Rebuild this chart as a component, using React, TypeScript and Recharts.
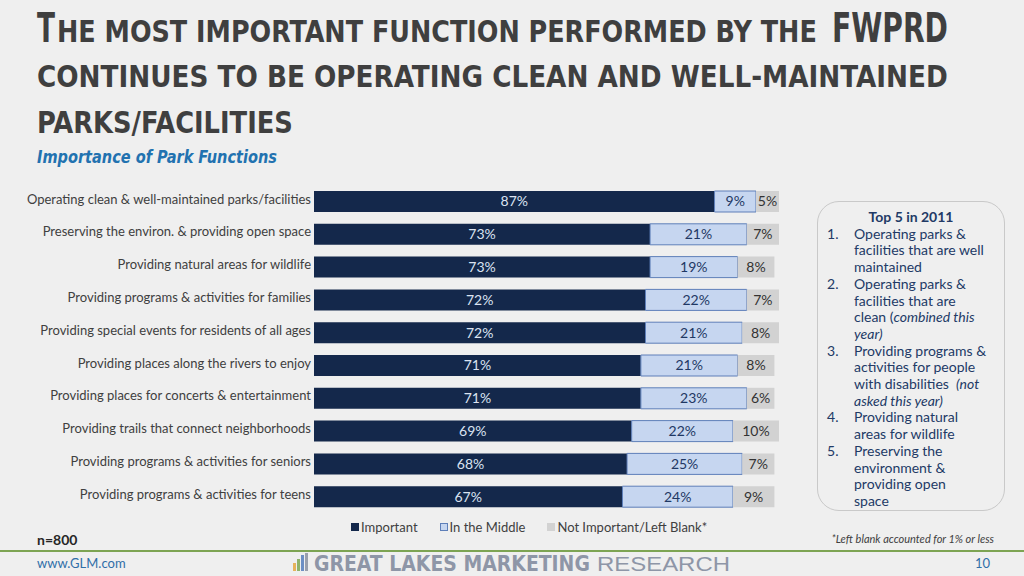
import React, { useLayoutEffect, useRef, useState } from 'react'
import { BarChart, Bar, XAxis, YAxis, Legend, LabelList } from 'recharts'

const categories = [
  'Operating clean & well-maintained parks/facilities',
  'Preserving the environ. & providing open space',
  'Providing natural areas for wildlife',
  'Providing programs & activities for families',
  'Providing special events for residents of all ages',
  'Providing places along the rivers to enjoy',
  'Providing places for concerts & entertainment',
  'Providing trails that connect neighborhoods',
  'Providing programs & activities for seniors',
  'Providing programs & activities for teens',
]
const important = [87, 73, 73, 72, 72, 71, 71, 69, 68, 67]
const middle = [9, 21, 19, 22, 21, 21, 23, 22, 25, 24]
const notImportant = [5, 7, 8, 7, 8, 8, 6, 10, 7, 9]

const seriesNames = ['Important', 'In the Middle', 'Not Important/Left Blank*']

const top5 = [
  ['Operating parks &', 'facilities that are well', 'maintained'],
  ['Operating parks &', 'facilities that are', 'clean (|combined this', '|year)'],
  ['Providing programs &', 'activities for people', 'with disabilities  |(not', '|asked this year)'],
  ['Providing natural', 'areas for wildlife'],
  ['Preserving the', 'environment &', 'providing open', 'space'],
]

const NAVY = '#14284b'
const LIGHT = '#c6d6f0'
const LIGHT_STROKE = '#5e7fb9'
const GREY = '#d2d2d2'
const FONT = '"Lato", "Open Sans", sans-serif'
const TITLE_FONT = '"DejaVu Sans Condensed", "Roboto", sans-serif'

const data = categories.map((name, i) => ({
  name,
  important: important[i],
  middle: middle[i],
  notImportant: notImportant[i],
}))

const pct = (v: any) => `${v}%`

// squeezes a text horizontally so that it spans `width` px
function FitText({ x, y, width, children, ...rest }: any) {
  const ref = useRef<SVGTextElement>(null)
  const [s, setS] = useState(1)
  useLayoutEffect(() => {
    const w = ref.current?.getComputedTextLength()
    if (w) setS(width / w)
  }, [width])
  return (
    <text ref={ref} x={x / s} y={y} transform={`scale(${s},1)`} {...rest}>{children}</text>
  )
}

function CategoryTick(props: any) {
  const { x, y, payload } = props
  return (
    <text x={x} y={y} dy={-1} textAnchor="end" dominantBaseline="middle" fontSize={13} fill="#404040" fontFamily={FONT}>
      {payload.value}
    </text>
  )
}

function LegendContent() {
  const items = [
    { label: seriesNames[0], fill: NAVY, stroke: NAVY },
    { label: seriesNames[1], fill: LIGHT, stroke: LIGHT_STROKE },
    { label: seriesNames[2], fill: GREY, stroke: GREY },
  ]
  return (
    <div style={{ display: 'flex', gap: 22, fontFamily: FONT, fontSize: 13, color: '#404040' }}>
      {items.map(it => (
        <div key={it.label} style={{ display: 'flex', alignItems: 'center' }}>
          <span style={{ width: 6, height: 6, background: it.fill, border: `1px solid ${it.stroke}`, marginRight: 2 }} />
          {it.label}
        </div>
      ))}
    </div>
  )
}

function renderLine(line: string) {
  // '|' toggles italic
  const parts = line.split('|')
  return parts.map((p, i) => (
    <span key={i} style={{ fontStyle: i % 2 === 1 ? 'italic' : 'normal' }}>{p}</span>
  ))
}

export default function App() {
  return (
    <div style={{ position: 'absolute', left: 0, top: 0, width: 1024, height: 576, background: '#efefef', overflow: 'hidden' }}>
      <svg width={1024} height={180} style={{ position: 'absolute', left: 0, top: 0 }}>
        <g fill="#3f3f3f" fontFamily={TITLE_FONT} fontWeight="bold">
          <FitText x={37} y={42} width={18} fontSize={41}>T</FitText>
          <FitText x={57} y={42} width={760} fontSize={30}>HE MOST IMPORTANT FUNCTION PERFORMED BY THE</FitText>
          <FitText x={832} y={42} width={116} fontSize={41}>FWPRD</FitText>
          <FitText x={37} y={87} width={911} fontSize={30}>CONTINUES TO BE OPERATING CLEAN AND WELL-MAINTAINED</FitText>
          <FitText x={37} y={133} width={256} fontSize={30}>PARKS/FACILITIES</FitText>
        </g>
        <FitText x={37} y={163} width={240} fontSize={17} fontStyle="italic" fontWeight="bold" fill="#2272b0"
          fontFamily={TITLE_FONT}>
          Importance of Park Functions
        </FitText>
      </svg>

      <div style={{ position: 'absolute', left: 0, top: 185 }}>
        <BarChart
          width={779}
          height={354}
          data={data}
          layout="vertical"
          barSize={21}
          margin={{ top: 0, right: 0, bottom: 0, left: 0 }}
        >
          <XAxis type="number" domain={[0, 101]} hide />
          <YAxis
            type="category"
            dataKey="name"
            width={314}
            tickLine={false}
            axisLine={false}
            tickSize={0}
            tickMargin={3}
            interval={0}
            tick={<CategoryTick />}
          />
          <Legend verticalAlign="bottom" height={26} content={<LegendContent />}
            wrapperStyle={{ left: 351, top: 334, width: 420 }} />
          <Bar dataKey="important" name={seriesNames[0]} stackId="a" fill={NAVY} isAnimationActive={false}>
            <LabelList dataKey="important" position="center" formatter={pct} fill="#dbe3f1" fontSize={14} fontFamily={FONT} />
          </Bar>
          <Bar dataKey="middle" name={seriesNames[1]} stackId="a" fill={LIGHT} stroke={LIGHT_STROKE} strokeWidth={1} isAnimationActive={false}>
            <LabelList dataKey="middle" position="center" formatter={pct} fill="#1f3864" fontSize={14} fontFamily={FONT} />
          </Bar>
          <Bar dataKey="notImportant" name={seriesNames[2]} stackId="a" fill={GREY} isAnimationActive={false}>
            <LabelList dataKey="notImportant" position="center" formatter={pct} fill="#333333" fontSize={14} fontFamily={FONT} />
          </Bar>
        </BarChart>
      </div>

      <div style={{
        position: 'absolute', left: 817, top: 201, width: 188, height: 310, border: '1px solid #c9c9c9',
        borderRadius: 22, boxSizing: 'border-box', fontFamily: FONT, fontSize: 14, color: '#223a66', lineHeight: '16.7px',
        paddingTop: 7,
      }}>
        <div style={{ textAlign: 'center', fontWeight: 'bold' }}>Top 5 in 2011</div>
        {top5.map((lines, i) => (
          <div key={i} style={{ display: 'flex' }}>
            <div style={{ width: 36, paddingLeft: 9, boxSizing: 'border-box' }}>{i + 1}.</div>
            <div>
              {lines.map((l, j) => <div key={j} style={{ whiteSpace: 'pre' }}>{renderLine(l)}</div>)}
            </div>
          </div>
        ))}
      </div>

      <div style={{ position: 'absolute', left: 37, top: 531, fontFamily: FONT, fontWeight: 'bold', fontSize: 14, color: '#262626' }}>n=800</div>
      <div style={{ position: 'absolute', right: 30, top: 532, fontFamily: FONT, fontStyle: 'italic', fontSize: 11, color: '#404040' }}>
        *Left blank accounted for 1% or less
      </div>
      <div style={{ position: 'absolute', left: 0, top: 550, width: 1024, height: 2, background: '#7da453' }} />
      <div style={{ position: 'absolute', left: 37, top: 555, fontFamily: FONT, fontSize: 13, color: '#2f6ea8' }}>www.GLM.com</div>
      <div style={{ position: 'absolute', left: 975, top: 555, fontFamily: FONT, fontSize: 13, color: '#2f6ea8' }}>10</div>

      <svg width={460} height={24} style={{ position: 'absolute', left: 290, top: 552 }}>
        <rect x={3} y={11} width={3} height={8} fill="#e6b35c" />
        <rect x={7} y={7} width={3} height={12} fill="#8fb36a" />
        <rect x={11} y={3} width={3} height={16} fill="#6d8fc4" />
        <rect x={15} y={1} width={3} height={18} fill="#9aa0ad" />
        <FitText x={24} y={19} width={276} fontSize={21} fontWeight="bold" fill="#8e96a7" fontFamily={TITLE_FONT}>
          GREAT LAKES MARKETING
        </FitText>
        <FitText x={307} y={19} width={133} fontSize={20} fill="#8e96a7" fontFamily='"Liberation Sans", "Roboto", sans-serif'>
          RESEARCH
        </FitText>
      </svg>
    </div>
  )
}
